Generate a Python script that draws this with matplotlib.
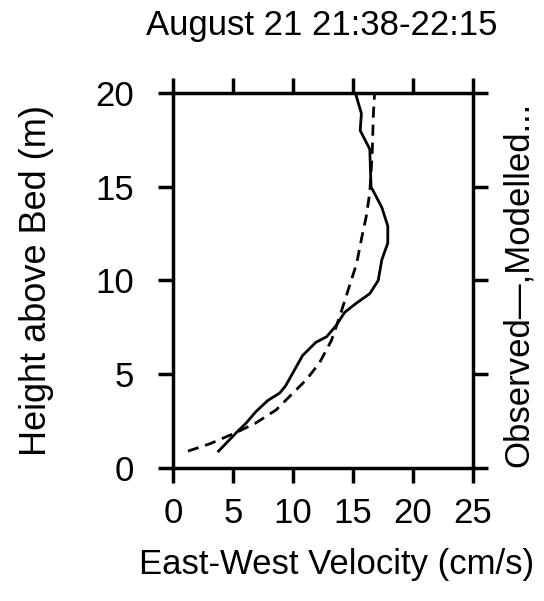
import matplotlib
matplotlib.use("Agg")
import matplotlib.pyplot as plt

plt.rcParams["font.family"] = ["Liberation Sans", "DejaVu Sans"]

# observed profile (solid)
obs_vel = [3.8, 4.4, 5.3, 6.1, 6.9, 7.9, 8.9, 9.4, 10.1, 10.8, 11.9, 12.8, 13.6,
           14.3, 15.3, 16.4, 17.1, 17.4, 17.9, 17.9, 17.4, 16.5, 16.4, 15.6, 15.7, 15.2]
obs_h = [0.9, 1.3, 1.9, 2.4, 3.0, 3.6, 4.0, 4.4, 5.2, 6.0, 6.7, 7.0, 7.6,
         8.3, 8.8, 9.3, 10.0, 11.1, 12.0, 12.9, 13.9, 15.0, 17.0, 18.0, 18.9, 20.0]

# modelled profile (dashed)
mod_vel = [1.25, 3.1, 5.3, 6.9, 8.6, 10.0, 11.1, 12.2, 13.2, 13.9, 14.6, 15.3,
           15.7, 16.1, 16.4, 16.6, 16.7, 16.8]
mod_h = [0.9, 1.3, 1.9, 2.4, 3.1, 4.0, 4.7, 5.6, 6.8, 8.1, 9.5, 10.9,
         12.2, 13.4, 14.7, 16.8, 18.9, 20.0]

xticks = [0, 5, 10, 15, 20, 25]
yticks = [0, 5, 10, 15, 20]

fig = plt.figure(figsize=(5.44, 6.01), dpi=100)
ax = fig.add_axes([0.318, 0.2213, 0.5515, 0.624])

ax.plot(obs_vel, obs_h, color="black", lw=2.0)
ax.plot(mod_vel, mod_h, color="black", lw=2.0, dashes=(4, 2.5))

ax.set_xlim(0, 25)
ax.set_ylim(0, 20)
ax.set_xticks(xticks)
ax.set_yticks(yticks)

for s in ax.spines.values():
    s.set_linewidth(2.5)
ax.tick_params(direction="out", length=11, width=2.5, labelsize=25,
               top=True, right=True, labeltop=False, labelright=False)
ax.tick_params(axis="x", pad=10)
ax.tick_params(axis="y", pad=17)

fig.text(0.591, 0.958, "August 21 21:38-22:15", fontsize=25, ha="center", va="center")
fig.text(0.619, 0.060, "East-West Velocity (cm/s)", fontsize=25, ha="center", va="center")
fig.text(0.068, 0.534, "Height above Bed (m)", fontsize=26, rotation=90,
         ha="center", va="center")
fig.text(0.953, 0.526, "Observed\u2014,Modelled...", fontsize=25, rotation=90,
         ha="center", va="center")

fig.savefig("out.png", dpi=100)
